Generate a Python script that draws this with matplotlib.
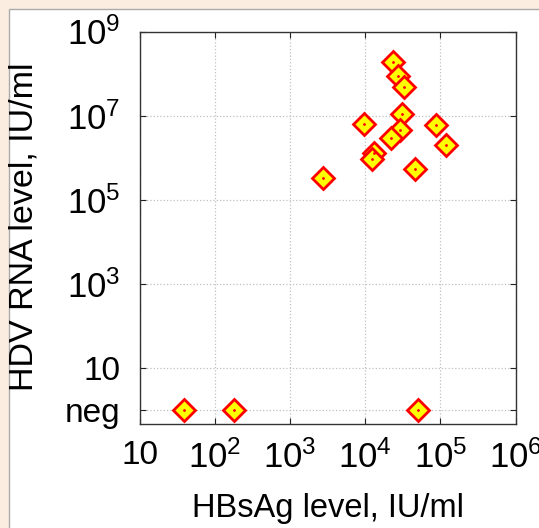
import numpy as np
import matplotlib.pyplot as plt
from matplotlib.patches import Rectangle

# HBsAg (IU/ml) vs HDV RNA (IU/ml); "neg" plotted at 1
hbsag = [10**4.37, 10**4.44, 10**4.52, 10**4.49, 10**3.99, 10**4.94, 10**4.46,
         10**4.34, 10**5.08, 10**4.12, 10**4.09, 10**4.67, 10**3.44,
         10**1.59, 10**2.25, 10**4.70]
hdv_rna = [10**8.28, 10**7.94, 10**7.69, 10**7.04, 10**6.80, 10**6.77, 10**6.67,
           10**6.48, 10**6.31, 10**6.12, 10**5.97, 10**5.73, 10**5.52,
           1, 1, 1]

x_ticks = [10, 1e2, 1e3, 1e4, 1e5, 1e6]
x_labels = ['10', r'$\mathregular{10^2}$', r'$\mathregular{10^3}$', r'$\mathregular{10^4}$',
            r'$\mathregular{10^5}$', r'$\mathregular{10^6}$']
y_ticks = [1, 10, 1e3, 1e5, 1e7, 1e9]
y_labels = ['neg', '10', r'$\mathregular{10^3}$', r'$\mathregular{10^5}$',
            r'$\mathregular{10^7}$', r'$\mathregular{10^9}$']

plt.rcParams['font.family'] = ['Liberation Sans', 'DejaVu Sans']

W, H = 539, 528
fig = plt.figure(figsize=(W / 100, H / 100), dpi=100)
fig.patch.set_facecolor('#fcede1')

# white panel with thin grey border
fig.patches.append(Rectangle((9 / W, -0.1), 1.2, 1 - 9 / H + 0.1, transform=fig.transFigure,
                             facecolor='white', edgecolor='#aaaaaa', linewidth=1.0, zorder=-5))

ax = fig.add_axes([139.5 / W, 1 - 423.5 / H, 376 / W, 392 / H])
ax.set_xscale('log')
ax.set_yscale('log')
ax.set_xlim(10, 1e6)
ax.set_ylim(10**-0.31, 1e9)

ax.plot(hbsag, hdv_rna, linestyle='none', marker='D', markersize=11,
        markerfacecolor='yellow', markeredgecolor='red', markeredgewidth=2, zorder=3)
ax.plot(hbsag, hdv_rna, linestyle='none', marker='.', markersize=2,
        color='red', zorder=4)

ax.set_xticks(x_ticks)
ax.set_xticklabels(x_labels)
ax.set_yticks(y_ticks)
ax.set_yticklabels(y_labels)
ax.minorticks_off()
ax.tick_params(direction='in', length=4, width=0.8, top=True, right=True,
               colors='#222222', labelcolor='black')
ax.tick_params(axis='x', pad=12)
ax.tick_params(axis='y', pad=14)
# plain labels vs 10^n labels sized separately
for lab in ax.get_xticklabels() + ax.get_yticklabels():
    lab.set_fontsize(25 if '$' in lab.get_text() else 24)

ax.grid(True, linestyle=':', color='#c0c0c0', linewidth=0.9)
for s in ax.spines.values():
    s.set_color('#333333')
    s.set_linewidth(1.0)

fig.text(327.5 / W, 1 - 517 / H, 'HBsAg level, IU/ml', fontsize=23.5,
         ha='center', va='baseline')
fig.text(33 / W, 1 - 227 / H, 'HDV RNA level, IU/ml', fontsize=24.5,
         rotation=90, rotation_mode='anchor', ha='center', va='baseline')

fig.savefig('out.png', dpi=100, facecolor=fig.get_facecolor())
